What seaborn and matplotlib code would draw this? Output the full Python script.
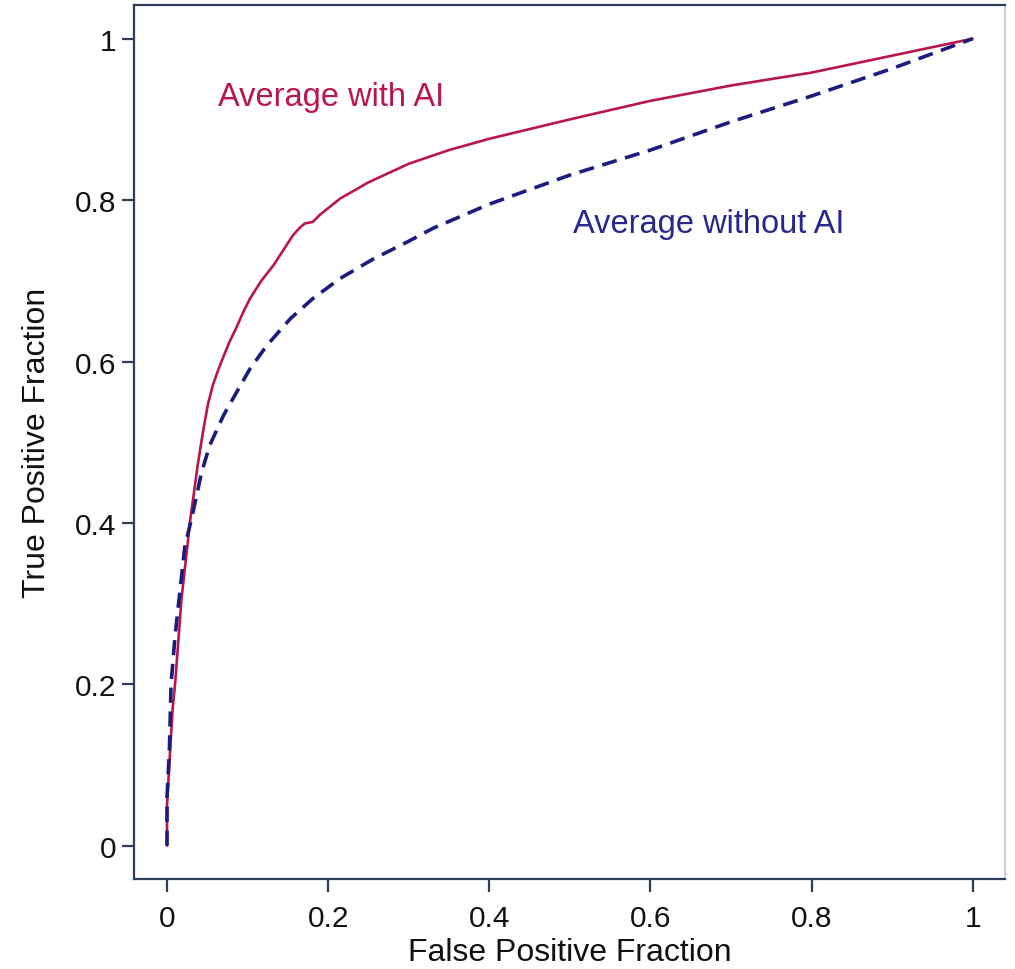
import matplotlib
matplotlib.use("Agg")
import numpy as np
import pandas as pd
import matplotlib.pyplot as plt
import matplotlib.ticker as mticker
import seaborn as sns

# ROC points
FPR_WITH = [0.0, 0.0, 0.004, 0.007, 0.010, 0.018, 0.024, 0.029, 0.038, 0.045,
            0.051, 0.057, 0.063, 0.068, 0.077, 0.087, 0.095, 0.103, 0.117,
            0.132, 0.145, 0.156, 0.165, 0.171, 0.181, 0.190, 0.200, 0.215,
            0.250, 0.300, 0.350, 0.400, 0.500, 0.600, 0.700, 0.800, 0.900, 1.0]
TPR_WITH = [0.0, 0.05, 0.12, 0.17, 0.20, 0.306, 0.360, 0.405, 0.471, 0.515,
            0.548, 0.571, 0.588, 0.601, 0.623, 0.644, 0.662, 0.678, 0.700,
            0.719, 0.739, 0.756, 0.766, 0.771, 0.773, 0.782, 0.790, 0.802,
            0.822, 0.845, 0.862, 0.876, 0.900, 0.923, 0.942, 0.958, 0.979, 1.0]

FPR_WITHOUT = [0.0, 0.0, 0.003, 0.005, 0.010, 0.016, 0.022, 0.032, 0.043, 0.053,
               0.070, 0.087, 0.103, 0.124, 0.153, 0.181, 0.215, 0.256, 0.298,
               0.330, 0.400, 0.500, 0.600, 0.700, 0.800, 0.900, 1.0]
TPR_WITHOUT = [0.0, 0.06, 0.12, 0.20, 0.26, 0.315, 0.370, 0.412, 0.463, 0.496,
               0.533, 0.563, 0.591, 0.620, 0.653, 0.678, 0.703, 0.727, 0.748,
               0.765, 0.795, 0.831, 0.862, 0.897, 0.929, 0.963, 1.0]

TICKS = [0, 0.2, 0.4, 0.6, 0.8, 1]

RED = "#B8174C"
NAVY = "#1C1C7E"
FRAME = "#2E3E58"

sns.set_style("white")
plt.rcParams["font.family"] = ["Liberation Sans", "DejaVu Sans"]

fig = plt.figure(figsize=(10.15, 9.7), dpi=100)
ax = fig.add_axes([0.132, 0.093, 0.858, 0.901])

sns.lineplot(x=FPR_WITH, y=TPR_WITH, sort=False, estimator=None,
             color=RED, linewidth=1.9, ax=ax)
sns.lineplot(x=FPR_WITHOUT, y=TPR_WITHOUT, sort=False, estimator=None,
             color=NAVY, linewidth=2.6, ax=ax)
ax.lines[1].set_dashes([4.2, 2.4])

ax.set_xlim(-0.041, 1.040)
ax.set_ylim(-0.041, 1.042)
ax.set_xticks(TICKS)
ax.set_yticks(TICKS)
fmt = mticker.FuncFormatter(lambda v, p: f"{v:g}")
ax.xaxis.set_major_formatter(fmt)
ax.yaxis.set_major_formatter(fmt)
ax.tick_params(axis="both", direction="out", length=9, width=1.6,
               color=FRAME, labelsize=21.5, labelcolor="#111111",
               bottom=True, left=True, top=False, right=False)
ax.tick_params(axis="y", pad=4)
ax.tick_params(axis="x", pad=9)

for side in ["left", "bottom", "top"]:
    ax.spines[side].set_color(FRAME)
    ax.spines[side].set_linewidth(1.6)
ax.spines["right"].set_color("#C9D1DA")
ax.spines["right"].set_linewidth(1.6)

ax.set_xlabel("False Positive Fraction", fontsize=23, color="#111111", labelpad=4)
ax.set_ylabel("True Positive Fraction", fontsize=23, color="#111111", labelpad=16)

ax.text(0.063, 0.929, "Average with AI", color=RED, fontsize=23.5, va="center")
ax.text(0.504, 0.771, "Average without AI", color="#2A278C", fontsize=23.5, va="center")

fig.savefig("out.png", dpi=100)
